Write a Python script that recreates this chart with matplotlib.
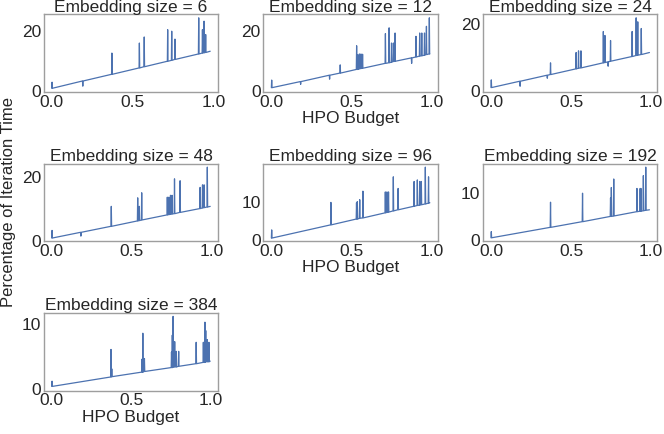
import numpy as np
import matplotlib
matplotlib.use("Agg")
import matplotlib.pyplot as plt
from matplotlib.ticker import MaxNLocator
import seaborn as sns

sns.set_style("white")
plt.rcParams['font.family'] = ['Liberation Sans', 'DejaVu Sans']

# embedding sizes shown in each panel
emb_sizes = [6, 12, 24, 48, 96, 192, 384]

# baseline at budget 0 and at the last budget value
start_base = [1.0, 1.2, 1.1, 0.8, 0.6, 0.5, 0.4]
end_budget = [0.98, 0.985, 0.99, 0.99, 0.99, 0.99, 0.995]
end_base = [13.2, 12.3, 11.6, 10.8, 9.7, 6.4, 4.3]
# spike at the very first iteration
first_peak = [3.0, 3.7, 3.4, 3.2, 2.7, 1.8, 1.2]

# (budget, baseline, spike value)
spikes_6 = [(0.19, 3.4, 1.7), (0.37, 5.6, 12.6), (0.54, 7.7, 15.9), (0.57, 8.1, 17.9),
            (0.715, 9.9, 20.3), (0.74, 10.2, 19.8), (0.76, 10.5, 17.2),
            (0.907, 12.3, 24.2), (0.93, 12.6, 20.3), (0.94, 12.7, 23.1), (0.95, 12.8, 18.7)]
spikes_12 = [(0.18, 3.2, 2.3), (0.36, 5.3, 4.0), (0.426, 6.0, 8.7),
             (0.528, 7.2, 15.0), (0.535, 7.2, 12.0), (0.545, 7.4, 12.3), (0.555, 7.5, 12.3), (0.565, 7.6, 12.2),
             (0.707, 9.2, 19.0), (0.73, 9.4, 20.9), (0.745, 9.6, 15.9), (0.757, 9.8, 15.9), (0.767, 9.9, 19.2),
             (0.87, 11.0, 9.2), (0.897, 11.3, 18.1), (0.92, 11.6, 19.2), (0.933, 11.7, 19.2),
             (0.95, 11.9, 19.2), (0.962, 12.1, 21.4), (0.98, 12.3, 24.2)]
spikes_24 = [(0.18, 3.0, 1.5), (0.35, 4.8, 3.9), (0.37, 5.0, 8.5),
             (0.53, 6.7, 11.6), (0.545, 6.9, 12.1), (0.56, 7.0, 12.1),
             (0.70, 8.5, 17.9), (0.71, 8.6, 16.7), (0.73, 8.8, 7.5), (0.745, 9.0, 15.2),
             (0.88, 10.4, 17.9), (0.905, 10.7, 22.0), (0.915, 10.8, 20.8), (0.937, 11.0, 18.8)]
spikes_48 = [(0.18, 2.6, 1.4), (0.37, 4.5, 10.8),
             (0.535, 6.2, 13.5), (0.545, 6.3, 10.8), (0.56, 6.5, 15.1),
             (0.72, 8.1, 13.7), (0.73, 8.2, 13.7), (0.74, 8.3, 14.3), (0.75, 8.4, 14.3),
             (0.765, 8.5, 19.5), (0.80, 8.9, 18.9),
             (0.925, 10.1, 16.8), (0.94, 10.3, 17.6), (0.95, 10.4, 17.6), (0.97, 10.6, 23.2)]
spikes_96 = [(0.37, 4.0, 9.8), (0.53, 5.5, 9.7), (0.535, 5.5, 10.0), (0.55, 5.7, 10.5), (0.57, 5.8, 12.7),
             (0.71, 7.1, 12.5), (0.72, 7.2, 12.5), (0.73, 7.3, 12.5), (0.76, 7.6, 16.4), (0.79, 7.9, 13.4),
             (0.89, 8.8, 15.2), (0.91, 9.0, 15.6), (0.925, 9.1, 15.2), (0.935, 9.2, 15.2),
             (0.96, 9.4, 18.9), (0.98, 9.6, 16.4)]
spikes_192 = [(0.37, 2.7, 8.0), (0.57, 3.9, 9.9),
              (0.745, 5.0, 8.9), (0.75, 5.0, 11.1), (0.765, 5.1, 12.9),
              (0.91, 6.0, 10.9), (0.93, 6.1, 10.9), (0.935, 6.1, 10.9), (0.95, 6.2, 13.6), (0.965, 6.3, 15.4)]
spikes_384 = [(0.37, 1.85, 6.1), (0.375, 1.9, 3.1),
              (0.565, 2.6, 4.6), (0.57, 2.6, 8.6), (0.58, 2.7, 4.7),
              (0.75, 3.3, 5.7), (0.755, 3.3, 8.3), (0.76, 3.4, 11.2), (0.77, 3.4, 7.3),
              (0.78, 3.4, 5.8), (0.795, 3.5, 5.8), (0.905, 3.9, 7.2),
              (0.95, 4.1, 7.2), (0.96, 4.1, 10.3), (0.965, 4.2, 9.0), (0.975, 4.2, 7.6), (0.985, 4.2, 7.2)]
all_spikes = [spikes_6, spikes_12, spikes_24, spikes_48, spikes_96, spikes_192, spikes_384]

line_color = '#4c72b0'

fig, axes = plt.subplots(3, 3, figsize=(6.64, 4.34), dpi=100)
fig.subplots_adjust(left=0.066, right=0.99, top=0.967, bottom=0.1, wspace=0.26, hspace=0.92)
axes = axes.flatten()

for i, size in enumerate(emb_sizes):
    ax = axes[i]
    xs = [0.0, 0.002, 0.004]
    ys = [start_base[i], first_peak[i], start_base[i]]
    for bx, foot, peak in all_spikes[i]:
        xs += [bx, bx + 0.002, bx + 0.004]
        ys += [foot, peak, foot]
    xs.append(end_budget[i])
    ys.append(end_base[i])
    ax.plot(xs, ys, color=line_color, linewidth=0.9)
    ax.set_ylim(bottom=-0.25)
    ax.yaxis.set_major_locator(MaxNLocator(nbins=2, steps=[1, 2, 5, 10]))
    ax.set_title(f'Embedding size = {size}', fontsize=12.5, pad=2)
    ax.set_xticks([0.0, 0.5, 1.0])
    ax.tick_params(labelsize=12.5, length=0, pad=2)
    for sp in ax.spines.values():
        sp.set_color('0.62')
        sp.set_linewidth(1.0)

for j in range(len(emb_sizes), 9):
    axes[j].set_visible(False)

axes[1].set_xlabel('HPO Budget', fontsize=12.5, labelpad=1)
axes[4].set_xlabel('HPO Budget', fontsize=12.5, labelpad=1)
axes[6].set_xlabel('HPO Budget', fontsize=12.5, labelpad=1)
axes[3].set_ylabel('Percentage of Iteration Time', fontsize=12, labelpad=4)

fig.savefig('out.png', dpi=100)
